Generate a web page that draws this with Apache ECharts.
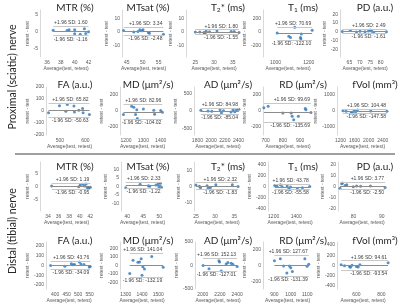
<!DOCTYPE html>
<html>
<head>
<meta charset="utf-8">
<script src="https://cdn.jsdelivr.net/npm/echarts@6/dist/echarts.min.js"></script>
<style>
    html, body {margin: 0; padding: 0; background: #fff;}
    #chartWrap {width: 400px; height: 306px;}
</style>
</head>
<body>
<div id="chartWrap"></div>
<script>
// panel titles, same for both nerves
var titlesA = ['MTR (%)', 'MTsat (%)', 'T{s|2}* (ms)', 'T{s|1} (ms)', 'PD (a.u.)'];
var titlesB = ['FA (a.u.)', 'MD (μm²/s)', 'AD (μm²/s)', 'RD (μm²/s)', 'fVol (mm³)'];

// proximal (sciatic) - average / difference
var pMTR_avg = [36.9, 38.9, 39.2, 40.0, 40.0, 40.8, 41.4, 41.6, 42.0];
var pMTR_diff = [0.5, 0.4, 0.6, 0.6, -0.6, -0.7, 0.9, -0.5, 0.0];
var pMTsat_avg = [44.0, 47.2, 48.5, 49.1, 49.8, 50.1, 51.8, 52.1, 56.5];
var pMTsat_diff = [1.2, 0.0, 0.5, 1.7, 1.0, 1.7, -0.3, -0.8, -1.5];
var pT2_avg = [25.0, 26.2, 27.3, 27.6, 27.9, 28.8, 30.8, 34.6, 35.4, 36.7];
var pT2_diff = [0.1, 0.0, -0.3, -0.9, 0.6, 0.3, 0.9, 0.5, 0.4, -0.2];
var pT1_avg = [1010, 1080, 1090, 1116, 1150, 1152, 1155, 1220];
var pT1_diff = [-15, -65, -80, 70, -80, -100, -30, 25];
var pPD_avg = [61.6, 65.5, 68.4, 70.1, 72.5, 74.2, 75.0, 75.8, 76.7, 82.8];
var pPD_diff = [0.2, 1.8, -0.2, 0.6, 0.1, 0.8, 2.0, 0.5, -1.0, 0.1];
var pFA_avg = [455, 498, 523, 529, 555, 557, 574, 589, 591, 616];
var pFA_diff = [-15, 44, -3, 55, 41, -9, 6, 20, -15, -29];
var pMD_avg = [1185, 1232, 1245, 1255, 1262, 1265, 1300, 1360, 1365, 1400, 1410];
var pMD_diff = [-45, 60, 48, -45, 15, -95, 25, 10, -40, 5, -15];
var pAD_avg = [1850, 1955, 2010, 2130, 2150, 2180, 2290, 2320, 2345, 2370, 2405];
var pAD_diff = [20, 0, -10, 40, -60, 10, -30, 40, -20, 30, 50];
var pRD_avg = [690, 715, 800, 848, 854, 863, 890, 930, 934, 963];
var pRD_diff = [40, 60, -25, -25, -65, -110, -65, 30, 15, -20];
var pVol_avg = [1270, 1360, 1500, 1540, 1590, 1630, 1680, 2060, 2520];
var pVol_diff = [20, -20, -130, -80, 20, -40, 60, 0, -20];

// distal (tibial)
var dMTR_avg = [34.7, 39.8, 40.1, 40.6, 40.9, 41.2, 41.4, 41.7, 42.0];
var dMTR_diff = [0.2, -0.1, 0.6, 0.9, 0.2, 1.0, -0.4, -0.6, -0.3];
var dMTsat_avg = [39.5, 44.0, 46.6, 47.0, 49.0, 49.7, 49.9, 50.4, 50.7];
var dMTsat_diff = [-0.8, 1.3, 0.5, 0.1, 0.9, 1.6, -0.1, 1.9, -0.4];
var dT2_avg = [25.0, 25.9, 26.2, 27.9, 28.2, 28.8, 30.2, 34.5, 36.0];
var dT2_diff = [0.9, 0.1, -0.7, 0.5, -1.0, -0.6, 1.0, 1.0, 0.0];
var dT1_avg = [1210, 1230, 1260, 1275, 1320, 1335, 1350, 1410, 1455, 1520];
var dT1_diff = [20, 5, 30, -5, 10, -40, -10, -40, -25, 0];
var dPD_avg = [75.2, 75.8, 76.1, 77.0, 77.6, 79.9, 81.1, 82.5, 86.0, 91.2];
var dPD_diff = [-1.5, 2.5, 3.2, 0.8, 1.6, -0.2, 0.5, 0.2, 0.5, -0.9];
var dFA_avg = [380, 442, 470, 478, 484, 505, 512, 525, 548, 552];
var dFA_diff = [0, -8, 18, 8, 10, 35, 15, 10, -15, -10];
var dMD_avg = [1325, 1345, 1375, 1385, 1395, 1400, 1405, 1415, 1460, 1530];
var dMD_diff = [-95, 60, 38, 40, 80, -115, -15, -40, 105, -20];
var dAD_avg = [2004, 2073, 2188, 2196, 2215, 2273, 2292, 2330, 2350, 2400];
var dAD_diff = [0, -70, 100, 75, -115, 30, 65, 50, 25, -20];
var dRD_avg = [900, 936, 956, 976, 992, 1000, 1010, 1086, 1100, 1110];
var dRD_diff = [60, 85, -5, -95, -5, -30, -75, 85, -10, 15];
var dVol_avg = [478, 505, 546, 552, 565, 600, 614, 628, 853];
var dVol_diff = [15, -5, -20, -35, 5, -20, -30, 15, 55];

// limits of agreement (+1.96 SD / -1.96 SD)
var proxUpper = [1.60, 3.34, 1.80, 70.69, 2.49, 65.82, 82.96, 84.98, 99.69, 104.48];
var proxLower = [-1.16, -2.48, -1.55, -122.10, -1.61, -50.63, -104.02, -85.04, -135.69, -147.58];
var distUpper = [1.19, 2.33, 2.32, 43.78, 3.77, 43.76, 141.04, 152.13, 127.67, 94.61];
var distLower = [-0.95, -1.22, -1.83, -55.58, -2.50, -34.09, -132.19, -127.01, -131.39, -93.54];

// axis scales: [min, max, tick step, label every]
var xScale = [
    [35, 42.5, 0.5, 2], [43.5, 57, 0.5, 5], [22.5, 37.5, 0.5, 5], [925, 1225, 25, 200], [60.5, 84.5, 0.5, 5],
    [445, 630, 5, 100], [1165, 1425, 5, 100], [1750, 2450, 50, 200], [685, 975, 5, 100], [1100, 2550, 50, 400],
    [32.5, 42.5, 0.5, 2], [38, 51.5, 0.5, 5], [24.5, 36.5, 0.5, 5], [1150, 1540, 10, 200], [74.5, 91.5, 0.5, 10],
    [360, 560, 10, 50], [1265, 1535, 5, 100], [1910, 2445, 5, 200], [830, 1130, 10, 100], [445, 860, 5, 200]
];
var yScale = [
    [-7.5, 6.5, 0.5, 5], [-18, 16, 1, 10], [-18, 16, 1, 10], [-370, 325, 5, 200], [-29, 25, 1, 10],
    [-200, 200, 100, 100], [-300, 300, 100, 200], [-700, 700, 100, 500], [-300, 300, 100, 200], [-1500, 1500, 500, 1000],
    [-9.5, 9.5, 0.5, 5], [-14.5, 14.5, 0.5, 5], [-15, 15, 5, 10], [-450, 450, 50, 200], [-22, 22, 1, 10],
    [-240, 240, 20, 100], [-275, 275, 25, 100], [-500, 500, 100, 500], [-300, 300, 100, 200], [-460, 460, 20, 200]
];

// layout (pixels)
var rowBox = [[10, 57], [87, 135], [162, 211], [242, 289]];
var colBox = [
    [[40, 92], [122, 165], [186, 242], [263, 313], [340, 390]],
    [[46, 93], [120, 165], [194, 242], [263, 313], [337, 388]],
    [[40, 93], [121, 164], [194, 240], [268, 312], [338, 386]],
    [[46, 92], [120, 164], [195, 241], [263, 312], [337, 389]]
];
var titleX = [75, 148, 228, 303, 375];
var titleY = [8, 85, 167, 241];

var panels = [
    [pMTR_avg, pMTR_diff], [pMTsat_avg, pMTsat_diff], [pT2_avg, pT2_diff], [pT1_avg, pT1_diff], [pPD_avg, pPD_diff],
    [pFA_avg, pFA_diff], [pMD_avg, pMD_diff], [pAD_avg, pAD_diff], [pRD_avg, pRD_diff], [pVol_avg, pVol_diff],
    [dMTR_avg, dMTR_diff], [dMTsat_avg, dMTsat_diff], [dT2_avg, dT2_diff], [dT1_avg, dT1_diff], [dPD_avg, dPD_diff],
    [dFA_avg, dFA_diff], [dMD_avg, dMD_diff], [dAD_avg, dAD_diff], [dRD_avg, dRD_diff], [dVol_avg, dVol_diff]
];
var upper = proxUpper.concat(distUpper);
var lower = proxLower.concat(distLower);

var small = 'Liberation Sans';
var labelColor = '#595959';

function labelEvery(every) {
    return function (v) {
        var r = v / every;
        return Math.abs(r - Math.round(r)) < 1e-6 ? String(+v.toFixed(2)) : '';
    };
}

function longestLabel(sc) {
    var n = 0;
    for (var v = sc[0]; v <= sc[1] + 1e-9; v += sc[2]) {
        var s = labelEvery(sc[3])(v);
        if (s.length > n) n = s.length;
    }
    return n;
}

var grids = [], xAxes = [], yAxes = [], series = [], graphics = [];

for (var i = 0; i < 20; i++) {
    var row = Math.floor(i / 5), col = i % 5;
    var cb = colBox[row][col], rb = rowBox[row];
    grids.push({left: cb[0], top: rb[0], width: cb[1] - cb[0], height: rb[1] - rb[0]});

    var xs = xScale[i], ys = yScale[i];
    xAxes.push({
        type: 'value', gridIndex: i, min: xs[0], max: xs[1], interval: xs[2],
        axisLine: {show: false}, axisTick: {show: false}, splitLine: {show: false},
        axisLabel: {formatter: labelEvery(xs[3]), fontSize: 5, color: labelColor, fontFamily: small, margin: 3},
        name: 'Average(test, retest)', nameLocation: 'middle', nameGap: 9,
        nameTextStyle: {fontSize: 5, color: labelColor, fontFamily: small}
    });
    yAxes.push({
        type: 'value', gridIndex: i, min: ys[0], max: ys[1], interval: ys[2],
        axisLine: {show: true, onZero: false, lineStyle: {color: '#d9d9d9', width: 1}},
        axisTick: {show: false}, splitLine: {show: false},
        axisLabel: {formatter: labelEvery(ys[3]), fontSize: 5, color: labelColor, fontFamily: small, margin: 2},
        name: 'retest - test', nameLocation: 'middle', nameRotate: 90,
        nameGap: longestLabel(ys) * 2.7 + 4,
        nameTextStyle: {fontSize: 5, color: labelColor, fontFamily: small}
    });

    var avg = panels[i][0], diff = panels[i][1];
    var x0 = Math.min.apply(null, avg), x1 = Math.max.apply(null, avg);
    var up = upper[i], lo = lower[i], mean = (up + lo) / 2;
    var loaLabel = {show: true, fontSize: 5, color: '#404040', fontFamily: small, distance: 1};

    series.push({
        type: 'scatter', xAxisIndex: i, yAxisIndex: i,
        symbolSize: 3, itemStyle: {color: '#2e75b6'},
        data: avg.map(function (a, k) { return [a, diff[k]]; }),
        markLine: {
            silent: true, symbol: 'none', animation: false,
            data: [
                [{coord: [x0, up], lineStyle: {color: '#c8c8c8', width: 1, type: 'solid'},
                    label: Object.assign({position: 'insideEndTop', formatter: '+1.96 SD: ' + up.toFixed(2)}, loaLabel)},
                    {coord: [x1, up]}],
                [{coord: [x0, lo], lineStyle: {color: '#c8c8c8', width: 1, type: 'solid'},
                    label: Object.assign({position: 'insideEndBottom', formatter: '-1.96 SD: ' + lo.toFixed(2)}, loaLabel)},
                    {coord: [x1, lo]}],
                [{coord: [x0, mean], lineStyle: {color: '#8c8c8c', width: 1, type: 'solid'}, label: {show: false}},
                    {coord: [x1, mean]}]
            ]
        }
    });

    var t = (row % 2 === 0 ? titlesA : titlesB)[col];
    graphics.push({
        type: 'text', x: titleX[col], y: titleY[row], silent: true,
        style: {
            text: t, fontSize: 10, fontFamily: 'Lato', fill: '#262626',
            align: 'center', verticalAlign: 'middle', textAlign: 'center', textVerticalAlign: 'middle',
            rich: {s: {fontSize: 6.5, fontFamily: 'Lato', fill: '#262626', verticalAlign: 'bottom', padding: [3, 0, 0, 0]}}
        }
    });
}

// nerve group labels and the divider
graphics.push({
    type: 'text', x: 13, y: 77, rotation: Math.PI / 2, silent: true,
    style: {text: 'Proximal (sciatic) nerve', fontSize: 10.5, fontFamily: 'Lato', fill: '#262626',
        align: 'center', verticalAlign: 'middle', textAlign: 'center', textVerticalAlign: 'middle'}
});
graphics.push({
    type: 'text', x: 13, y: 231, rotation: Math.PI / 2, silent: true,
    style: {text: 'Distal (tibial) nerve', fontSize: 10.5, fontFamily: 'Lato', fill: '#262626',
        align: 'center', verticalAlign: 'middle', textAlign: 'center', textVerticalAlign: 'middle'}
});
graphics.push({
    type: 'line', silent: true,
    shape: {x1: 15, y1: 154, x2: 395, y2: 154},
    style: {stroke: '#7f7f7f', lineWidth: 1.5}
});

var myChart = echarts.init(document.getElementById('chartWrap'));
myChart.setOption({
    animation: false,
    backgroundColor: '#fff',
    grid: grids,
    xAxis: xAxes,
    yAxis: yAxes,
    series: series,
    graphic: graphics
});
</script>
</body>
</html>
